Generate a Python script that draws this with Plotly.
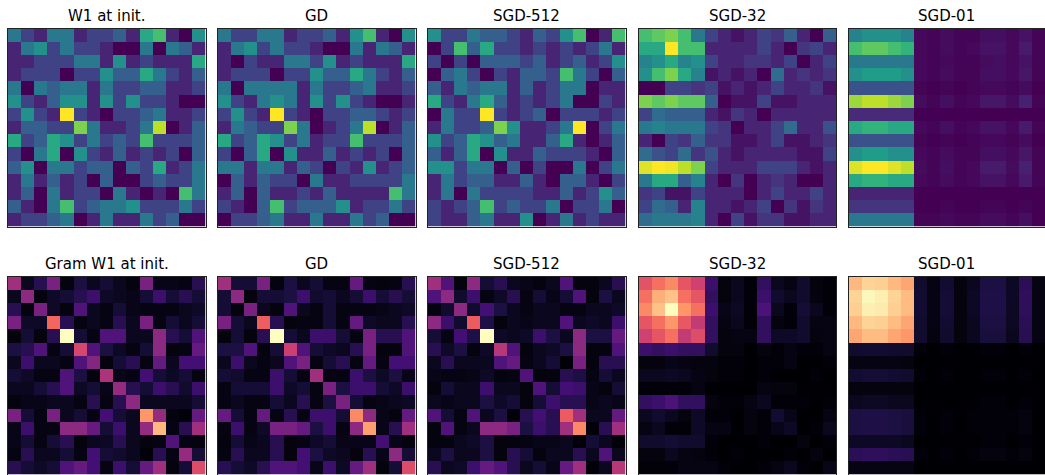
import plotly.graph_objects as go

# Panel titles
titles_top = ["W1 at init.", "GD", "SGD-512", "SGD-32", "SGD-01"]
titles_bottom = ["Gram W1 at init.", "GD", "SGD-512", "SGD-32", "SGD-01"]

# First-layer weights W1 (15 x 15), per-panel scale 0..10
w1_init = [
    [4, 2, 1, 4, 4, 1, 2, 2, 3, 1, 6, 7, 1, 0, 5],
    [1, 4, 5, 2, 4, 2, 2, 1, 0, 0, 4, 0, 4, 3, 1],
    [1, 1, 2, 2, 2, 4, 4, 1, 5, 1, 2, 1, 1, 1, 6],
    [1, 2, 2, 2, 0, 2, 2, 5, 3, 3, 6, 4, 2, 1, 3],
    [4, 0, 4, 3, 4, 4, 1, 4, 2, 2, 3, 3, 1, 1, 2],
    [5, 2, 1, 3, 5, 5, 1, 5, 2, 5, 2, 2, 1, 0, 0],
    [2, 5, 2, 1, 10, 2, 1, 0, 2, 2, 3, 4, 1, 1, 2],
    [1, 3, 3, 2, 2, 8, 4, 1, 1, 2, 4, 9, 0, 1, 3],
    [6, 2, 3, 6, 5, 2, 4, 2, 3, 2, 7, 2, 2, 2, 3],
    [2, 0, 4, 6, 0, 5, 2, 1, 3, 1, 2, 1, 2, 0, 3],
    [3, 5, 0, 4, 4, 2, 3, 3, 0, 3, 2, 6, 1, 2, 4],
    [1, 4, 1, 3, 1, 2, 0, 3, 0, 0, 2, 3, 2, 2, 4],
    [1, 3, 0, 4, 1, 2, 2, 0, 4, 1, 0, 1, 0, 7, 4],
    [3, 1, 0, 4, 7, 2, 3, 4, 4, 5, 2, 2, 2, 4, 2],
    [1, 2, 2, 3, 4, 0, 1, 4, 1, 1, 4, 2, 3, 0, 0],
]

w1_gd = [
    [4, 2, 2, 4, 4, 1, 2, 2, 3, 1, 5, 7, 1, 0, 5],
    [1, 4, 5, 2, 4, 2, 2, 1, 0, 0, 4, 1, 4, 3, 1],
    [1, 0, 2, 1, 1, 4, 4, 2, 5, 1, 2, 1, 1, 1, 6],
    [1, 2, 2, 2, 0, 2, 2, 5, 3, 3, 6, 4, 2, 1, 3],
    [4, 0, 4, 4, 4, 4, 1, 4, 2, 2, 3, 4, 1, 1, 2],
    [5, 2, 1, 4, 5, 4, 1, 5, 2, 5, 2, 1, 0, 0, 1],
    [2, 5, 2, 1, 10, 2, 1, 0, 2, 2, 3, 3, 2, 1, 2],
    [1, 4, 3, 2, 2, 8, 4, 0, 1, 2, 4, 9, 0, 1, 3],
    [6, 2, 3, 6, 5, 2, 4, 1, 2, 2, 7, 2, 2, 2, 3],
    [2, 0, 3, 6, 0, 5, 1, 1, 3, 1, 2, 1, 2, 0, 3],
    [4, 4, 1, 4, 4, 1, 3, 2, 0, 2, 1, 5, 1, 2, 3],
    [0, 3, 1, 3, 2, 2, 0, 4, 1, 1, 2, 2, 2, 2, 4],
    [1, 3, 0, 3, 1, 1, 2, 1, 3, 1, 1, 1, 1, 7, 4],
    [2, 1, 0, 3, 7, 2, 3, 3, 3, 5, 1, 2, 2, 4, 2],
    [0, 2, 2, 3, 4, 1, 1, 4, 1, 1, 4, 2, 3, 0, 0],
]

w1_sgd512 = [
    [5, 2, 2, 4, 3, 3, 2, 1, 3, 2, 5, 7, 0, 1, 7],
    [0, 2, 7, 3, 6, 2, 2, 1, 2, 1, 2, 1, 2, 4, 1],
    [2, 0, 2, 0, 3, 3, 3, 2, 3, 1, 2, 3, 1, 2, 5],
    [0, 3, 4, 2, 0, 2, 1, 3, 3, 2, 7, 4, 2, 0, 3],
    [3, 1, 4, 3, 4, 4, 1, 3, 1, 2, 4, 4, 0, 1, 1],
    [6, 2, 1, 4, 6, 3, 1, 2, 1, 2, 4, 0, 0, 2, 1],
    [0, 4, 2, 2, 10, 2, 1, 2, 3, 0, 2, 2, 2, 1, 2],
    [1, 4, 2, 2, 3, 8, 5, 1, 1, 2, 4, 10, 0, 2, 4],
    [5, 2, 3, 6, 5, 3, 4, 1, 1, 3, 6, 1, 0, 1, 3],
    [3, 1, 3, 6, 0, 5, 1, 1, 3, 2, 2, 2, 1, 0, 3],
    [5, 5, 2, 4, 4, 0, 3, 0, 2, 0, 0, 4, 0, 2, 4],
    [1, 4, 2, 3, 3, 1, 1, 3, 1, 0, 3, 3, 1, 0, 2],
    [1, 4, 0, 4, 2, 2, 2, 2, 1, 1, 3, 1, 2, 5, 3],
    [2, 1, 2, 3, 7, 2, 3, 2, 2, 4, 0, 2, 2, 4, 0],
    [2, 1, 1, 3, 4, 1, 1, 5, 0, 1, 4, 1, 2, 1, 1],
]

w1_sgd32 = [
    [7, 7.5, 8, 7, 4, 2, 1, 0.5, 1, 2, 1.5, 3, 1, 0, 3],
    [6, 6, 10, 7, 7, 1, 1, 1, 1, 2, 1, 0, 1.5, 2, 1],
    [4.5, 5, 6, 4.5, 5, 2, 1, 1, 1.5, 1.5, 1, 2, 0, 1, 2],
    [5, 7, 8, 6, 4.5, 0.5, 1, 0.5, 1, 0, 3.5, 1, 1.5, 1, 1.5],
    [0, 0, 2, 2, 1.5, 2, 0.5, 1, 0.5, 1, 2, 1, 1, 1.5, 0.5],
    [8, 7.5, 8, 7.5, 7.5, 3, 0, 0.5, 0.5, 2, 0.5, 0.5, 1, 1, 1],
    [2, 3.5, 3, 3, 3, 1, 0.5, 1.5, 1, 0, 1, 1, 1, 1, 1],
    [4, 4.5, 4, 4, 4, 2, 1.5, 0, 1, 1, 2, 3.5, 1, 1, 2.5],
    [1, 0, 2, 1.5, 3, 1.5, 1.5, 0.5, 0.5, 1, 2, 0.5, 0.5, 1, 1.5],
    [3.5, 2.5, 2, 3.5, 1.5, 2.5, 1, 0.5, 1, 1, 1, 1, 0.5, 0.5, 2],
    [9.5, 10, 9.8, 9, 8, 2, 1, 1, 1, 2, 2, 2, 1, 0.5, 1],
    [4, 6, 6, 3, 4.5, 1, 0, 1.5, 0, 1, 1.5, 1, 0, 0, 1],
    [1.5, 2, 0.5, 0.5, 2, 1, 1, 1, 0, 1, 2, 1, 1, 2, 1],
    [2, 3.5, 3, 1, 4.5, 1, 1, 0.5, 1, 2, 0, 1.5, 0.5, 1.5, 1],
    [3.5, 4, 4, 4, 4.5, 1, 0, 2, 0.5, 1.5, 1.5, 0.5, 0.5, 1, 1],
]

w1_sgd01 = [
    [4.5, 5, 5, 5, 4.5, 0.2, 0.1, 0.3, 0.1, 0.1, 0.4, 0.4, 0.2, 0.5, 0.1],
    [7, 7.5, 7.5, 7, 6.5, 0.2, 0.1, 0.3, 0.1, 0.2, 0.5, 0.5, 0.2, 0.7, 0.1],
    [4, 4, 4, 4, 4, 0.2, 0.1, 0.2, 0.1, 0.1, 0.3, 0.4, 0.2, 0.5, 0.1],
    [5, 5.5, 5.5, 5.5, 5, 0.2, 0.1, 0.3, 0.1, 0.1, 0.4, 0.4, 0.2, 0.6, 0.1],
    [2.5, 2.5, 2.5, 2.5, 2.5, 0.1, 0.0, 0.1, 0.0, 0.1, 0.2, 0.2, 0.1, 0.3, 0.0],
    [8.5, 9, 9, 8.5, 8, 0.3, 0.1, 0.4, 0.1, 0.2, 0.6, 0.6, 0.3, 0.9, 0.1],
    [1.2, 1.2, 1.2, 1.2, 1.2, 0.0, 0.0, 0.0, 0.0, 0.0, 0.0, 0.0, 0.0, 0.0, 0.0],
    [6, 6.5, 6.5, 6, 6, 0.2, 0.1, 0.4, 0.1, 0.2, 0.5, 0.5, 0.2, 0.7, 0.1],
    [2.5, 2.5, 2.5, 2.5, 2.5, 0.1, 0.0, 0.1, 0.0, 0.1, 0.2, 0.2, 0.1, 0.3, 0.0],
    [5, 5.5, 5.5, 5, 5, 0.2, 0.1, 0.3, 0.1, 0.1, 0.4, 0.4, 0.2, 0.6, 0.1],
    [9.5, 10, 10, 9.5, 9, 0.3, 0.1, 0.4, 0.1, 0.2, 0.7, 0.7, 0.3, 0.9, 0.1],
    [6, 6.5, 6.5, 6, 6, 0.2, 0.1, 0.3, 0.1, 0.2, 0.5, 0.5, 0.2, 0.7, 0.1],
    [1, 1, 1, 1, 1, 0.0, 0.0, 0.0, 0.0, 0.0, 0.0, 0.0, 0.0, 0.0, 0.0],
    [1.5, 1.5, 1.5, 1.5, 1.5, 0.0, 0.0, 0.1, 0.0, 0.0, 0.1, 0.1, 0.0, 0.1, 0.0],
    [4, 4, 4, 4, 4, 0.1, 0.1, 0.2, 0.1, 0.1, 0.3, 0.3, 0.1, 0.4, 0.0],
]

# Gram matrices of W1 (symmetric): row i lists entries (i, i), (i, i+1), ..., (i, 14)
gram_init_upper = [
    [4.5, 0.5, 1.5, 3.5, 0.2, 1.2, 0.5, 1, 0.5, 0.2, 3.5, 0.4, 0.4, 0.3, 1.5],
    [4, 0.2, 0.7, 1, 1.5, 2, 0.7, 0.5, 0.4, 1, 2, 1, 1.5, 1],
    [3.5, 0.7, 0.2, 2.5, 0.5, 0.3, 1, 0.4, 0.3, 0.3, 0.3, 0.5, 0.7],
    [6.8, 1.5, 0.3, 0.5, 0.3, 1.5, 0.5, 3.5, 0.3, 1, 0.5, 1],
    [10, 1, 0.3, 2.5, 2.5, 0.5, 0.5, 4, 1.5, 1, 2.5],
    [5.8, 2.5, 1.2, 0.6, 0.3, 1, 4, 0.2, 0.3, 3],
    [3.8, 0.2, 1, 1.5, 0.3, 3, 0.5, 2.2, 2.2],
    [4.8, 0.4, 0.3, 2.2, 1, 0.6, 1, 0.3],
    [4.2, 1.5, 1, 2, 1.5, 0.8, 2],
    [4, 0.5, 0.5, 0.5, 0.5, 1],
    [7.8, 4.2, 0.2, 0.1, 3],
    [8.5, 0.3, 1.5, 4.5],
    [2.5, 0.3, 0.2],
    [4.2, 1],
    [6],
]

gram_gd_upper = [
    [4.5, 1, 1, 3.5, 0.2, 1.2, 0.5, 1, 0.3, 0.3, 3, 0.3, 0.2, 0.3, 1.5],
    [4, 0.2, 1, 1, 1.2, 2, 0.8, 1, 0.5, 1, 2, 1, 1.5, 1],
    [3.5, 0.5, 0.2, 2.5, 0.5, 0.3, 1, 0.3, 0.3, 0.3, 0.4, 0.5, 0.7],
    [6.6, 1.5, 0.2, 0.3, 0.3, 1, 0.3, 3, 0.7, 0.5, 0.5, 1.5],
    [10, 1, 0.5, 2, 2, 1, 0.3, 3.5, 1.5, 1.5, 2.5],
    [5.5, 2.5, 1, 0.7, 0.5, 1.5, 3.5, 0.2, 0.2, 2.5],
    [3.5, 0.3, 1, 1.5, 0.3, 3, 0.3, 2.2, 2.2],
    [4.5, 0.3, 0.3, 2, 1.2, 0.7, 1.2, 0.4],
    [3.5, 1.2, 2, 2, 1, 0.7, 2],
    [3.5, 1, 0.3, 0.4, 0.5, 0.6],
    [7.5, 4, 0.4, 0.2, 3],
    [8, 0.4, 1.5, 4.5],
    [2.2, 0.4, 0.2],
    [4, 1],
    [6],
]

gram_sgd512_upper = [
    [4.5, 2.5, 0.2, 4, 1, 1.5, 0.5, 0.4, 0.2, 0.5, 2.5, 0.2, 0.2, 0.5, 1.5],
    [4, 0.8, 2, 0.3, 0.7, 1.5, 0.3, 1, 0.4, 1, 2.5, 0.2, 1.2, 0.5],
    [4, 0.8, 2.2, 1.2, 0.5, 0.3, 0.5, 0.5, 0.3, 0.3, 0.5, 0.5, 0.7],
    [6.5, 1.3, 0.2, 0.5, 0.4, 0.5, 0.5, 2.5, 0.5, 0.7, 0.5, 2],
    [10, 0.7, 0.5, 0.7, 2, 1.2, 0.5, 4, 1.2, 1.2, 3],
    [5, 2.5, 0.2, 0.5, 0.7, 1.2, 4, 0.2, 0.2, 2.5],
    [3, 0.3, 0.5, 1, 0.1, 3.5, 0.2, 1.5, 1.5],
    [2.5, 0.2, 0.2, 1.5, 1.2, 0.3, 1, 0.5],
    [2.5, 1, 2.2, 2, 0.4, 0.2, 1],
    [2, 1.5, 1.5, 0.4, 0.5, 0.4],
    [6.5, 4.5, 0.5, 0.5, 3],
    [7.5, 0.1, 1.5, 4.5],
    [1, 0.5, 0.1],
    [2.5, 0.5],
    [5],
]

gram_sgd32_upper = [
    [6.2, 7, 7.5, 6.3, 5.6, 2, 0.2, 0.5, 0.1, 1.8, 0.5, 0.3, 0.8, 0.2, 0.1],
    [8.3, 8.7, 7, 6.3, 1.8, 0.2, 0.5, 0.1, 2, 0.8, 0.5, 0.8, 0.2, 0.1],
    [10, 7.8, 7, 2, 0.4, 0.6, 0.1, 2.4, 0.5, 0.1, 1, 0.5, 0.1],
    [6.4, 5.3, 1.8, 0.3, 0.5, 0.1, 1.8, 0.2, 0.1, 0.8, 0.3, 0.3],
    [6, 1.8, 0.2, 0.3, 0.3, 1.8, 0.7, 0.7, 0.8, 0.2, 0.3],
    [0.8, 0.2, 0.2, 0.0, 0.2, 0.1, 0.3, 0.1, 0.1, 0.3],
    [0.1, 0.1, 0.0, 0.1, 0.1, 0.3, 0.0, 0.0, 0.1],
    [0.1, 0.0, 0.1, 0.0, 0.0, 0.0, 0.1, 0.0],
    [0.0, 0.3, 0.2, 0.2, 0.0, 0.0, 0.0],
    [0.5, 0.1, 0.1, 0.1, 0.0, 0.1],
    [0.9, 0.4, 0.0, 0.0, 0.3],
    [0.6, 0.0, 0.1, 0.5],
    [0.2, 0.0, 0.1],
    [0.2, 0.0],
    [0.4],
]

gram_sgd01_upper = [
    [8.5, 9.1, 9, 8.5, 8.1, 0.8, 0.3, 0.9, 0.2, 0.5, 1.2, 1.2, 0.6, 1.6, 0.3],
    [9.9, 9.7, 9.1, 8.6, 0.9, 0.3, 1, 0.2, 0.6, 1.3, 1.3, 0.6, 1.7, 0.3],
    [9.6, 9, 8.6, 0.9, 0.3, 1, 0.2, 0.6, 1.3, 1.3, 0.6, 1.7, 0.3],
    [8.6, 8.1, 0.8, 0.3, 0.9, 0.2, 0.5, 1.2, 1.2, 0.6, 1.6, 0.3],
    [7.8, 0.8, 0.2, 0.8, 0.2, 0.5, 1.1, 1.1, 0.5, 1.5, 0.3],
    [0.1, 0.0, 0.1, 0.0, 0.0, 0.1, 0.1, 0.0, 0.1, 0.0],
    [0.0, 0.0, 0.0, 0.0, 0.0, 0.0, 0.0, 0.0, 0.0],
    [0.1, 0.0, 0.0, 0.1, 0.1, 0.0, 0.1, 0.0],
    [0.0, 0.0, 0.0, 0.0, 0.0, 0.0, 0.0],
    [0.0, 0.1, 0.1, 0.0, 0.1, 0.0],
    [0.1, 0.1, 0.1, 0.2, 0.0],
    [0.1, 0.1, 0.2, 0.0],
    [0.0, 0.1, 0.0],
    [0.2, 0.0],
    [0.0],
]


def symmetric(upper):
    """Fill a full symmetric matrix from its upper-triangular rows."""
    n = len(upper)
    m = [[0.0] * n for _ in range(n)]
    for i, row in enumerate(upper):
        for k, v in enumerate(row):
            j = i + k
            m[i][j] = v
            m[j][i] = v
    return m


top_mats = [w1_init, w1_gd, w1_sgd512, w1_sgd32, w1_sgd01]
bottom_mats = [symmetric(u) for u in (gram_init_upper, gram_gd_upper,
                                      gram_sgd512_upper, gram_sgd32_upper,
                                      gram_sgd01_upper)]

W, H = 1045, 475
col_px = [(7.5, 205.5), (217.5, 415.5), (427.5, 625.5), (638.5, 836), (848.5, 1046)]
row_px = [(28.5, 226.5), (276.5, 474.5)]

fig = go.Figure()
annotations = []
k = 0
for r, (mats, titles, cmap) in enumerate([(top_mats, titles_top, "Viridis"),
                                          (bottom_mats, titles_bottom, "Magma")]):
    y0, y1 = row_px[r]
    for c, (z, title) in enumerate(zip(mats, titles)):
        k += 1
        x0, x1 = col_px[c]
        xa = "x" if k == 1 else f"x{k}"
        ya = "y" if k == 1 else f"y{k}"
        fig.add_trace(go.Heatmap(
            z=z, colorscale=cmap, zmin=0, zmax=10, showscale=False,
            xaxis=xa, yaxis=ya, hoverinfo="z",
        ))
        ax = dict(domain=[x0 / W, min(x1 / W, 1.0)], range=[-0.5, 14.5],
                  showticklabels=False, ticks="", showgrid=False, zeroline=False,
                  showline=True, mirror=True, linecolor="#222", linewidth=1,
                  anchor=ya, fixedrange=True)
        ay = dict(domain=[1 - y1 / H, 1 - y0 / H], range=[14.5, -0.5],
                  showticklabels=False, ticks="", showgrid=False, zeroline=False,
                  showline=True, mirror=True, linecolor="#222", linewidth=1,
                  anchor=xa, fixedrange=True)
        fig.layout["xaxis" if k == 1 else f"xaxis{k}"] = ax
        fig.layout["yaxis" if k == 1 else f"yaxis{k}"] = ay
        annotations.append(dict(
            text=title, x=(x0 + min(x1, W)) / 2 / W, y=1 - (y0 - 1.5) / H,
            xref="paper", yref="paper", xanchor="center", yanchor="bottom",
            showarrow=False, font=dict(family="DejaVu Sans", size=15, color="#000"),
        ))

fig.update_layout(
    width=W, height=H, margin=dict(l=0, r=0, t=0, b=0),
    paper_bgcolor="white", plot_bgcolor="white",
    annotations=annotations, showlegend=False,
)

fig.write_html("out.html")
